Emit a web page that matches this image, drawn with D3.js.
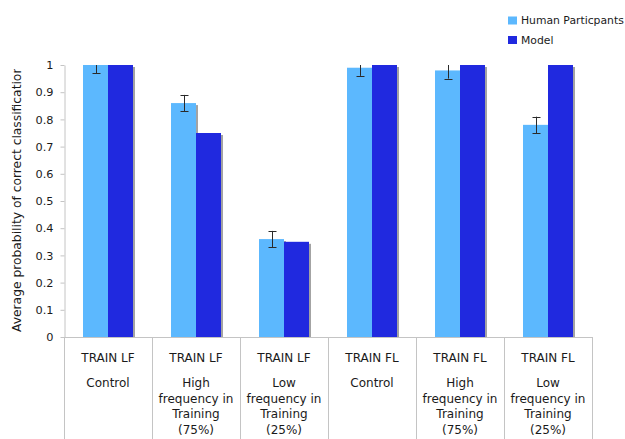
<!DOCTYPE html>
<html>
<head>
<meta charset="utf-8">
<script src="https://cdn.jsdelivr.net/npm/d3@7"></script>
<style>
  html, body { margin: 0; padding: 0; background: #fff; }
  svg { display: block; }
  text { font-family: "DejaVu Sans", Verdana, sans-serif; fill: #1a1a1a; }
</style>
</head>
<body>
<svg id="chart" width="625" height="439"></svg>
<script>
// ---- data ----
const conditions = ["TRAIN LF", "TRAIN LF", "TRAIN LF", "TRAIN FL", "TRAIN FL", "TRAIN FL"];
const conditionDetails = [
  ["Control"],
  ["High", "frequency in", "Training", "(75%)"],
  ["Low", "frequency in", "Training", "(25%)"],
  ["Control"],
  ["High", "frequency in", "Training", "(75%)"],
  ["Low", "frequency in", "Training", "(25%)"]
];
const seriesNames = ["Human Particpants", "Model"];
const humanValues = [1.0, 0.86, 0.36, 0.99, 0.98, 0.78];
const humanErrors = [0.03, 0.03, 0.03, 0.03, 0.03, 0.03];
const modelValues = [1.0, 0.75, 0.35, 1.0, 1.0, 1.0];
const yTicks = [0, 0.1, 0.2, 0.3, 0.4, 0.5, 0.6, 0.7, 0.8, 0.9, 1];
const yTickLabels = ["0", "0.1", "0.2", "0.3", "0.4", "0.5", "0.6", "0.7", "0.8", "0.9", "1"];
const yTitle = "Average probability of correct classification";

const colors = { "Human Particpants": "#5cb8fe", "Model": "#2029df" };

// ---- layout ----
const svg = d3.select("#chart");
const W = 625, H = 439;
const plot = { left: 64, right: 592, top: 65, bottom: 337 };

const x = d3.scaleBand().domain(d3.range(conditions.length)).range([plot.left, plot.right]).paddingInner(0).paddingOuter(0);
const xs = d3.scaleBand().domain(seriesNames).range([0, x.bandwidth()]).paddingInner(0).paddingOuter(0.76);
const y = d3.scaleLinear().domain([0, 1]).range([plot.bottom, plot.top]);

const data = conditions.map((c, i) => ({
  i,
  values: [
    { s: seriesNames[0], v: humanValues[i], e: humanErrors[i] },
    { s: seriesNames[1], v: modelValues[i] }
  ]
}));

const defs = svg.append("defs");
defs.append("clipPath").attr("id", "plotClip")
  .append("rect").attr("x", plot.left).attr("y", plot.top).attr("width", plot.right - plot.left + 10).attr("height", plot.bottom - plot.top + 5);

// table lines under axis
const boundaries = d3.range(conditions.length + 1).map(k => k < conditions.length ? x(k) : x(k - 1) + x.bandwidth());
svg.append("g").selectAll("line").data(boundaries).join("line")
  .attr("x1", d => Math.round(d) + 0.5).attr("x2", d => Math.round(d) + 0.5)
  .attr("y1", plot.bottom).attr("y2", H)
  .attr("stroke", "#c4c4c4").attr("stroke-width", 1);

// y axis
const yAxis = d3.axisLeft(y).tickValues(yTicks).tickFormat((d, i) => yTickLabels[i]).tickSizeInner(4).tickSizeOuter(0).tickPadding(7);
const yg = svg.append("g").attr("transform", `translate(${plot.left + 0.5},0)`).call(yAxis);
yg.select(".domain").attr("stroke", "#c4c4c4");
yg.selectAll(".tick line").attr("stroke", "#c4c4c4");
yg.selectAll(".tick text").attr("font-size", 11.3).attr("font-family", "DejaVu Sans, Verdana, sans-serif").attr("fill", "#1a1a1a");

// x axis line
svg.append("line")
  .attr("x1", plot.left).attr("x2", plot.right + 1)
  .attr("y1", plot.bottom + 0.5).attr("y2", plot.bottom + 0.5)
  .attr("stroke", "#c4c4c4");

// bars
const barsG = svg.append("g").attr("clip-path", "url(#plotClip)");
const groups = barsG.selectAll("g.grp").data(data).join("g")
  .attr("class", "grp")
  .attr("transform", d => `translate(${x(d.i)},0)`);

groups.selectAll("rect.shadow").data(d => d.values).join("rect")
  .attr("class", "shadow")
  .attr("x", d => xs(d.s) + 2)
  .attr("y", d => y(d.v) + 2)
  .attr("width", xs.bandwidth())
  .attr("height", d => plot.bottom - y(d.v) - 2)
  .attr("fill", "#a3a3a3");

groups.selectAll("rect.bar").data(d => d.values).join("rect")
  .attr("class", "bar")
  .attr("x", d => xs(d.s))
  .attr("y", d => y(d.v))
  .attr("width", xs.bandwidth())
  .attr("height", d => plot.bottom - y(d.v))
  .attr("fill", d => colors[d.s]);

// error bars
const errG = groups.selectAll("g.err").data(d => d.values.filter(v => v.e != null)).join("g")
  .attr("class", "err")
  .attr("transform", d => `translate(${Math.round(xs(d.s) + xs.bandwidth() / 2) + 0.5},0)`);
errG.append("line").attr("x1", 0).attr("x2", 0)
  .attr("y1", d => y(d.v + d.e)).attr("y2", d => y(d.v - d.e))
  .attr("stroke", "#2a2a2a").attr("stroke-width", 1);
errG.append("line").attr("x1", -4).attr("x2", 4)
  .attr("y1", d => Math.round(y(d.v + d.e)) + 0.5).attr("y2", d => Math.round(y(d.v + d.e)) + 0.5)
  .attr("stroke", "#2a2a2a").attr("stroke-width", 1);
errG.append("line").attr("x1", -4).attr("x2", 4)
  .attr("y1", d => Math.round(y(d.v - d.e)) + 0.5).attr("y2", d => Math.round(y(d.v - d.e)) + 0.5)
  .attr("stroke", "#2a2a2a").attr("stroke-width", 1);

// category labels
const lab = svg.append("g").selectAll("g.cat").data(conditions).join("g")
  .attr("class", "cat")
  .attr("transform", (d, i) => `translate(${x(i) + x.bandwidth() / 2},0)`);
lab.append("text").attr("y", 361.5).attr("text-anchor", "middle").attr("font-size", 12).text(d => d);
lab.each(function(d, i) {
  const g = d3.select(this);
  conditionDetails[i].forEach((line, k) => {
    g.append("text").attr("y", k === 0 ? 386.5 : 402.5 + (k - 1) * 15.7)
      .attr("text-anchor", "middle").attr("font-size", 12).text(line);
  });
});

// y title (clipped at the top like the original)
const tsvg = svg.append("svg").attr("x", 0).attr("y", 69).attr("width", 40).attr("height", 300).attr("overflow", "hidden");
tsvg.append("text")
  .attr("transform", `translate(21,${332 - 69}) rotate(-90)`)
  .attr("text-anchor", "start")
  .attr("font-size", 12.3)
  .text(yTitle);

// legend
const leg = svg.append("g").attr("transform", "translate(508,16.5)");
const li = leg.selectAll("g").data(seriesNames).join("g")
  .attr("transform", (d, i) => `translate(0,${i * 19.5})`);
li.append("rect").attr("width", 9).attr("height", 8).attr("fill", d => colors[d]);
li.append("text").attr("x", 13).attr("y", 7.8).attr("font-size", 10.8).text(d => d);
</script>
</body>
</html>
